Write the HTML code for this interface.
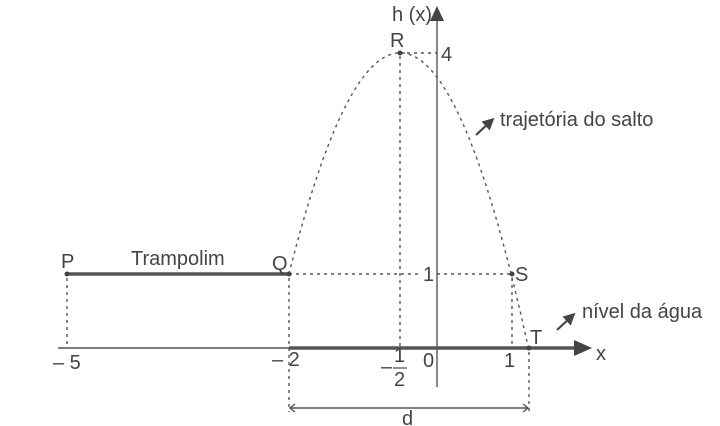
<!DOCTYPE html>
<html><head><style>
body{margin:0;background:#fff;overflow:hidden;}
svg{display:block;}
text{font-family:"Liberation Sans",sans-serif;fill:#444;font-size:20px;}
</style></head><body>
<svg width="720" height="426" viewBox="0 0 720 426">
<defs>
<marker id="ah" markerWidth="12" markerHeight="12" refX="6" refY="6" orient="auto" markerUnits="userSpaceOnUse"><path d="M0,0 L12,6 L0,12 z" fill="#444"/></marker>
</defs>
<g stroke="#555" stroke-width="1.4" stroke-dasharray="3 4" fill="none">
<path d="M289 274 Q409 -204 529 351"/>
<line x1="67" y1="278" x2="67" y2="348"/>
<line x1="289" y1="278" x2="289" y2="412"/>
<line x1="529" y1="352" x2="529" y2="412"/>
<line x1="400" y1="56" x2="400" y2="348"/>
<line x1="400" y1="53" x2="437" y2="53"/>
<line x1="289" y1="274" x2="420" y2="274"/>
<line x1="437" y1="274" x2="512" y2="274"/>
<line x1="512" y1="278" x2="512" y2="348"/>
</g>
<line x1="437" y1="20" x2="437" y2="387" stroke="#555" stroke-width="1.4"/>
<polygon points="437,6 430,21 444,21" fill="#444"/>
<line x1="58" y1="348" x2="289" y2="348" stroke="#555" stroke-width="1.4"/>
<line x1="289" y1="348" x2="575" y2="348" stroke="#555" stroke-width="3.5"/>
<polygon points="592,348 574,340 574,356" fill="#444"/>
<line x1="67" y1="274" x2="289" y2="274" stroke="#555" stroke-width="3.5"/>
<line x1="291" y1="408" x2="527" y2="408" stroke="#555" stroke-width="1.4"/>
<path d="M295 404 L290 408 L295 412 M523 404 L528 408 L523 412" stroke="#555" stroke-width="1.4" fill="none"/>
<g fill="#444"><circle cx="67" cy="274" r="2.5"/><circle cx="289" cy="274" r="2.5"/><circle cx="400" cy="53" r="2.5"/><circle cx="512" cy="274" r="2.5"/><circle cx="529" cy="348" r="2.5"/></g>
<line x1="476" y1="135" x2="490" y2="122" stroke="#444" stroke-width="2.2" marker-end="url(#ah)"/>
<line x1="557" y1="330" x2="571" y2="317" stroke="#444" stroke-width="2.2" marker-end="url(#ah)"/>
<text x="392" y="21">h (x)</text>
<text x="390" y="47">R</text>
<text x="441" y="61">4</text>
<text x="500" y="126">trajetória do salto</text>
<text x="61" y="268">P</text>
<text x="131" y="265">Trampolim</text>
<text x="272" y="270">Q</text>
<text x="423" y="281">1</text>
<text x="515" y="281">S</text>
<text x="582" y="318">nível da água</text>
<text x="530" y="344">T</text>
<text x="596" y="360">x</text>
<text x="53" y="369">– 5</text>
<text x="272" y="366">– 2</text>
<text x="381" y="373">–</text>
<text x="394" y="362">1</text>
<line x1="393" y1="368" x2="407" y2="368" stroke="#555" stroke-width="1.3"/>
<text x="394" y="386">2</text>
<text x="423" y="367">0</text>
<text x="504" y="367">1</text>
<text x="402" y="425">d</text>
</svg>
</body></html>
